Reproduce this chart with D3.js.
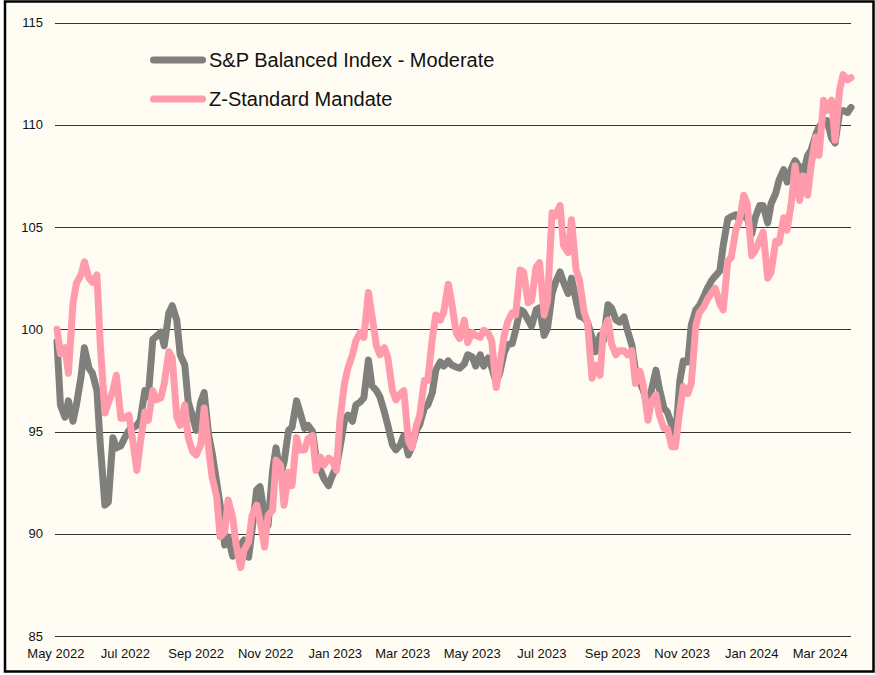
<!DOCTYPE html>
<html lang="en">
<head>
<meta charset="UTF-8">
<title>S&amp;P Balanced Index vs Z-Standard Mandate</title>
<script src="https://cdnjs.cloudflare.com/ajax/libs/d3/7.8.5/d3.min.js"></script>
<style>
    body { margin: 0; background: #fff; font-family: "Liberation Sans", Arial, Helvetica, sans-serif; }
    .grid line { stroke: #333; stroke-width: 1; shape-rendering: crispEdges; }
    .tick-label { font-size: 13px; fill: #111; }
    .legend-label { font-size: 20px; fill: #111; }
    .series { fill: none; stroke-width: 7; stroke-linejoin: round; stroke-linecap: round; }
</style>
</head>
<body>
<div id="chart"></div>
<script>
// Observations are on Mondays and Thursdays between these dates
const firstDay = "2022-05-02";
const lastDay = "2024-03-28";

const seriesNames = ["S&P Balanced Index - Moderate", "Z-Standard Mandate"];
const seriesColors = ["#7f7f7c", "#ff9bab"];

const yTicks = [85, 90, 95, 100, 105, 110, 115];
const xTickMonths = ["2022-05", "2022-07", "2022-09", "2022-11", "2023-01", "2023-03",
    "2023-05", "2023-07", "2023-09", "2023-11", "2024-01", "2024-03"];

// S&P Balanced Index - Moderate (Mon, Thu pairs)
const balancedIndex = [
    99.4, 96.3, 95.7, 96.5, 95.5, 96.3, 97.65, 99.1, 98.1, 97.85,
    97.0, 94.3, 91.4, 91.55, 94.7, 94.2, 94.3, 94.65, 95.05, 95.15,
    95.3, 95.55, 97.0, 96.7, 99.5, 99.65, 99.85, 99.2, 100.8, 101.15,
    100.45, 98.75, 98.25, 96.45, 95.7, 95.05, 96.45, 96.9, 94.8, 93.95,
    92.5, 91.4, 89.45, 89.85, 88.9, 89.2, 89.45, 89.7, 88.85, 90.2,
    92.15, 92.3, 90.9, 90.4, 93.1, 94.2, 92.85, 93.5, 95.05, 95.2,
    96.5, 95.95, 95.15, 95.3, 95.0, 93.75, 93.1, 92.7, 92.35, 92.8,
    93.3, 94.2, 95.55, 95.8, 95.5, 96.3, 96.45, 96.65, 98.5, 97.25,
    97.0, 96.7, 95.95, 95.3, 94.35, 94.1, 94.35, 94.8, 93.85, 94.25,
    95.05, 95.35, 96.15, 96.3, 96.9, 98.0, 98.4, 98.2, 98.45, 98.25,
    98.15, 98.1, 98.3, 98.75, 98.65, 98.2, 98.75, 98.2, 98.6, 98.15,
    97.4, 97.85, 98.85, 99.25, 99.3, 99.95, 100.95, 100.85, 100.45, 100.15,
    100.95, 101.05, 99.7, 100.05, 101.75, 102.3, 102.8, 102.3, 101.75, 102.5,
    101.4, 100.65, 100.55, 100.35, 99.6, 98.9, 99.7, 99.45, 101.2, 101.05,
    100.45, 100.35, 100.6, 99.95, 99.2, 98.0, 97.4, 97.0, 96.15, 97.0,
    98.0, 97.1, 96.15, 95.95, 95.3, 94.55, 97.5, 98.45, 98.4, 100.2,
    100.95, 101.15, 101.6, 102.0, 102.4, 102.6, 102.85, 104.1, 105.4, 105.5,
    105.6, 105.35, 105.6, 105.45, 104.65, 105.45, 106.05, 106.05, 105.2, 106.15,
    106.65, 107.3, 107.8, 107.2, 107.9, 108.25, 107.9, 107.6, 108.5, 108.75,
    109.5, 109.9, 110.15, 110.2, 109.35, 109.1, 110.6, 110.7, 110.6, 110.85
];

// Z-Standard Mandate (Mon, Thu pairs)
const zStandard = [
    100.0, 98.8, 99.1, 97.85, 101.25, 102.25, 102.65, 103.3, 102.5, 102.3,
    102.65, 99.2, 95.9, 96.4, 97.0, 97.75, 95.65, 95.65, 95.8, 94.7,
    93.1, 94.45, 95.95, 95.55, 97.0, 96.55, 96.65, 97.35, 98.9, 98.6,
    95.7, 95.3, 96.3, 94.7, 94.0, 93.85, 94.35, 96.15, 94.1, 92.75,
    91.8, 89.85, 90.1, 91.65, 90.8, 89.45, 88.35, 89.2, 89.6, 90.9,
    91.4, 90.65, 89.35, 90.9, 91.15, 93.6, 93.35, 91.4, 93.0, 92.35,
    94.7, 94.1, 94.1, 94.65, 94.8, 93.1, 93.75, 93.35, 93.7, 93.6,
    93.1, 95.55, 97.35, 98.1, 98.75, 99.45, 99.85, 99.6, 101.8, 100.7,
    99.2, 98.75, 99.1, 98.6, 97.0, 96.55, 96.85, 97.0, 94.55, 94.2,
    95.3, 95.8, 97.5, 97.5, 99.55, 100.7, 100.45, 100.85, 102.2, 101.3,
    99.8, 99.55, 100.45, 99.35, 99.85, 99.7, 99.6, 99.95, 99.8, 99.45,
    97.15, 98.2, 99.7, 100.35, 100.8, 100.7, 102.9, 102.8, 101.3, 101.4,
    103.05, 103.25, 100.7, 101.4, 105.7, 105.55, 106.05, 104.1, 103.75, 105.35,
    102.9, 102.4, 100.85, 100.35, 97.6, 98.25, 97.75, 99.95, 100.45, 99.3,
    98.75, 98.95, 98.95, 98.75, 98.95, 97.35, 97.95, 97.25, 95.55, 96.45,
    96.8, 95.8, 95.15, 95.15, 94.25, 94.25, 96.05, 97.2, 96.85, 97.35,
    100.2, 100.8, 101.1, 101.45, 101.8, 102.0, 101.25, 100.95, 103.35, 103.5,
    104.85, 105.25, 106.55, 106.15, 103.6, 103.85, 104.35, 104.75, 102.5, 102.8,
    104.3, 104.25, 105.45, 104.85, 106.3, 108.0, 106.3, 107.5, 106.55, 108.0,
    109.4, 108.5, 111.2, 110.7, 111.2, 109.25, 111.7, 112.45, 112.2, 112.3
];

const W = 875, H = 675;
const plot = {left: 55, right: 851, top: 22.5, bottom: 636};

const parseDay = d3.timeParse("%Y-%m-%d");
const parseMonth = d3.timeParse("%Y-%m");
const start = parseDay(firstDay), end = parseDay(lastDay);

// Monday / Thursday observation dates
const mondays = d3.timeMonday.range(start, d3.timeDay.offset(end, 1));
const thursdays = d3.timeThursday.range(start, d3.timeDay.offset(end, 1));
const dates = [];
mondays.forEach((m, i) => { dates.push(m); if (thursdays[i]) dates.push(thursdays[i]); });

const svg = d3.select("#chart").append("svg")
    .attr("width", W)
    .attr("height", H);

// frame
svg.append("rect")
    .attr("x", 5).attr("y", 1.5)
    .attr("width", 868.5).attr("height", 670)
    .attr("fill", "#fffdf3")
    .attr("stroke", "#000")
    .attr("stroke-width", 2.5);

const x = d3.scaleTime()
    .domain([start, end])
    .range([57, plot.right]);

const y = d3.scaleLinear()
    .domain([85, 115])
    .range([plot.bottom, plot.top]);

// horizontal grid
const grid = svg.append("g").attr("class", "grid");
grid.selectAll("line")
    .data(yTicks)
    .enter().append("line")
    .attr("x1", plot.left)
    .attr("x2", plot.right)
    .attr("y1", d => Math.round(y(d)) + 0.5)
    .attr("y2", d => Math.round(y(d)) + 0.5);

// y labels
svg.selectAll(".ylab")
    .data(yTicks)
    .enter().append("text")
    .attr("class", "tick-label")
    .attr("x", 43)
    .attr("y", d => y(d))
    .attr("dy", "0.36em")
    .attr("text-anchor", "end")
    .text(d => d);

// x labels
const fmt = d3.timeFormat("%b %Y");
svg.selectAll(".xlab")
    .data(xTickMonths.map(parseMonth))
    .enter().append("text")
    .attr("class", "tick-label")
    .attr("x", d => x(d))
    .attr("y", 658)
    .attr("text-anchor", "middle")
    .text(d => fmt(d));

// lines
const line = d3.line()
    .x((d, i) => x(dates[i]))
    .y(d => y(d));

[balancedIndex, zStandard].forEach((vals, i) => {
    svg.append("path")
        .datum(vals.slice(0, dates.length))
        .attr("class", "series")
        .attr("stroke", seriesColors[i])
        .attr("d", line);
});

// legend
const legend = svg.append("g");
seriesNames.forEach((name, i) => {
    const ly = 60 + i * 39;
    legend.append("line")
        .attr("x1", 153.5).attr("x2", 202.5)
        .attr("y1", ly).attr("y2", ly)
        .attr("stroke", seriesColors[i])
        .attr("stroke-width", 7)
        .attr("stroke-linecap", "round");
    legend.append("text")
        .attr("class", "legend-label")
        .attr("x", 209)
        .attr("y", ly)
        .attr("dy", "0.36em")
        .text(name);
});
</script>
</body>
</html>
